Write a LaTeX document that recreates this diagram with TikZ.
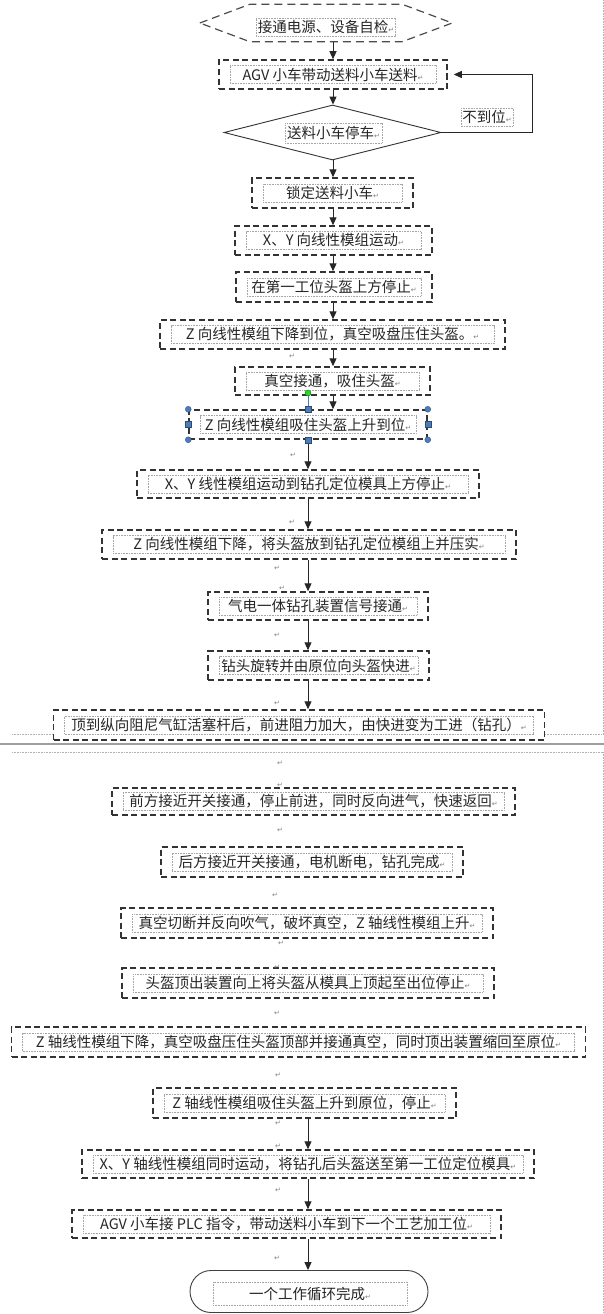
\documentclass[tikz,border=0pt]{standalone}
\usepackage{fontspec}
\setmainfont{Noto Sans CJK SC}
\newfontfamily\dejavu{DejaVu Sans}
\usetikzlibrary{arrows.meta,shapes.geometric,calc}
\definecolor{selblue}{HTML}{4A7EBB}
\definecolor{selgreen}{HTML}{22DD22}
\newcommand{\rmark}{{\dejavu\fontsize{7}{7}\selectfont\textcolor{gray}{↵}}}
\tikzset{
  stepbox/.style={draw=black!80, line width=1.5pt, dash pattern=on 6pt off 3.5pt, rectangle, inner sep=0pt},
  hexline/.style={draw=black!70, line width=1.2pt, dash pattern=on 8pt off 5pt},
  tframe/.style={draw=gray!70, dash pattern=on 0.8pt off 0.8pt, line width=0.5pt, inner sep=1.5pt,
    minimum height=18pt, font=\fontsize{14.5}{16}\selectfont, text=black!85},
  arr/.style={-{Triangle[length=8pt,width=7pt]}, line width=1pt, draw=black!85},
  retmark/.style={font=\dejavu\fontsize{7}{7}\selectfont, text=gray, inner sep=0pt},
  pageline/.style={draw=gray!60, line width=0.5pt, dash pattern=on 0.8pt off 0.8pt},
  handlec/.style={circle, fill=selblue, draw=selblue!60!black, line width=0.3pt, minimum size=6pt, inner sep=0pt},
  handles/.style={rectangle, fill=selblue, draw=selblue!60!black, line width=0.3pt, minimum size=6pt, inner sep=0pt}
}
\newcommand{\stepat}[6]{%
  \node[stepbox, minimum width=#4pt, minimum height=#5pt] (#1) at (#2,#3) {};
  \node[tframe, minimum width=#4pt-22pt] (#1t) at (#2,#3) {#6\rmark};
}
\begin{document}
\begin{tikzpicture}[x=1pt,y=-1pt]
\useasboundingbox (0,0) rectangle (604,1314);
\fill[white] (0,0) rectangle (604,1314);

% page boundary lines
\coordinate (pgR) at (603,0);
\coordinate (pgL) at (12,0);
\draw[pageline] (603,0) -- (603,734);
\draw[pageline] (12,734) -- (53,734);
\draw[pageline] (545,734) -- (603,734);
\draw[draw=gray!75, line width=2.2pt] (0,744) -- (604,744);
\draw[pageline] (12,752) -- (603,752);
\draw[pageline] (603,752) -- (603,1314);

% column coordinates
\coordinate (cA) at (333,0);
\coordinate (cB) at (308,0);
\coordinate (fb) at (532,0);

% start hexagon
\node[minimum width=252pt, minimum height=37pt, inner sep=0pt] (hex) at (326,23) {};
\draw[hexline] (hex.west) -- ([xshift=50pt]hex.north west) -- ([xshift=-50pt]hex.north east) -- (hex.east)
  -- ([xshift=-50pt]hex.south east) -- ([xshift=50pt]hex.south west) -- cycle;
\node[tframe, minimum width=137pt] (hext) at (326,27) {接通电源、设备自检\rmark};

\stepat{agv}{333}{74.5}{228}{29}{AGV 小车带动送料小车送料}

% decision
\node[diamond, draw=black!80, line width=0.9pt, minimum width=217pt, minimum height=55pt, inner sep=0pt] (dia) at (332.5,132.5) {};
\node[tframe, minimum width=97pt, minimum height=20pt] (diat) at (333.5,133) {送料小车停车\rmark};
\node[tframe] (ndw) at (487,117) {不到位\rmark};

\stepat{lock}{332.5}{193}{161}{30}{锁定送料小车}
\stepat{xya}{333.5}{240.5}{197}{29}{X、Y 向线性模组运动}
\stepat{stopa}{334}{287}{196}{30}{在第一工位头盔上方停止}
\stepat{zda}{332.5}{334.5}{345}{29}{Z 向线性模组下降到位，真空吸盘压住头盔。}
\stepat{vac}{332.5}{381}{195}{28}{真空接通，吸住头盔}
\stepat{zup}{308}{424.5}{238}{29}{Z 向线性模组吸住头盔上升到位}
\stepat{xyb}{308}{484}{342}{28}{X、Y 线性模组运动到钻孔定位模具上方停止}
\stepat{zdb}{309}{544.5}{414}{29}{Z 向线性模组下降，将头盔放到钻孔定位模组上并压实}
\stepat{qd}{318}{606}{220}{28}{气电一体钻孔装置信号接通}
\stepat{zt}{318.5}{665.5}{221}{29}{钻头旋转并由原位向头盔快进}
\stepat{dd}{299}{725}{491}{30}{顶到纵向阻尼气缸活塞杆后，前进阻力加大，由快进变为工进（钻孔）}

\stepat{front}{313.5}{801.5}{403}{27}{前方接近开关接通，停止前进，同时反向进气，快速返回}
\stepat{back}{312}{862}{302}{30}{后方接近开关接通，电机断电，钻孔完成}
\stepat{vcut}{307}{923}{372}{30}{真空切断并反向吹气，破坏真空，Z 轴线性模组上升}
\stepat{eject}{308}{983}{372}{30}{头盔顶出装置向上将头盔从模具上顶起至出位停止}
\stepat{zdc}{298.5}{1042}{574}{30}{Z 轴线性模组下降，真空吸盘压住头盔顶部并接通真空，同时顶出装置缩回至原位}
\stepat{zupb}{304.5}{1103}{303}{30}{Z 轴线性模组吸住头盔上升到原位，停止}
\stepat{xyc}{308}{1164}{452}{28}{X、Y 轴线性模组同时运动，将钻孔后头盔送至第一工位定位模具}
\stepat{agvb}{286.5}{1224}{429}{28}{AGV 小车接 PLC 指令，带动送料小车到下一个工艺加工位}

% end terminal
\node[draw=black!75, line width=0.9pt, rounded corners=21pt, minimum width=238pt, minimum height=42pt] (fin) at (309,1291.5) {};
\node[tframe, minimum width=194pt, minimum height=23pt] (fint) at (310,1293.5) {一个工作循环完成\rmark};

% connectors
\draw[arr] (hex.south -| cA) -- (agv.north -| cA);
\draw[arr] (agv.south -| cA) -- (dia.north -| cA);
\draw[arr] (dia.south -| cA) -- (lock.north -| cA);
\draw[arr] (lock.south -| cA) -- (xya.north -| cA);
\draw[arr] (xya.south -| cA) -- (stopa.north -| cA);
\draw[arr] (stopa.south -| cA) -- (zda.north -| cA);
\draw[arr] (zda.south -| cA) -- (vac.north -| cA);
\draw[arr] (vac.south -| cA) -- (zup.north -| cA);
\draw[arr] (zup.south -| cB) -- (xyb.north -| cB);
\draw[arr] (xyb.south -| cB) -- (zdb.north -| cB);
\draw[arr] (zdb.south -| cB) -- (qd.north -| cB);
\draw[arr] (qd.south -| cB) -- (zt.north -| cB);
\draw[arr] (zt.south -| cB) -- (dd.north -| cB);
\draw[arr] (zupb.south -| cB) -- (xyc.north -| cB);
\draw[arr] (xyc.south -| cB) -- (agvb.north -| cB);
\draw[arr] (agvb.south -| cB) -- (fin.north -| cB);
\draw[arr, shorten >=6pt] (dia.east) -- (dia.east -| fb) -- (agv.east -| fb) -- (agv.east);

% selection handles around zup
\draw[selblue, line width=0.8pt] (308,393) -- (zup.north);
\node[circle, fill=selgreen, draw=green!40!black, line width=0.3pt, minimum size=6pt, inner sep=0pt] (rot) at (308,393) {};
\node[handlec] (h1) at (zup.north west) {};
\node[handlec] (h2) at (zup.north east) {};
\node[handlec] (h3) at (zup.south west) {};
\node[handlec] (h4) at (zup.south east) {};
\node[handles] (h5) at (zup.north) {};
\node[handles] (h6) at (zup.south) {};
\node[handles] (h7) at (zup.west) {};
\node[handles] (h8) at (zup.east) {};

% stray paragraph marks
\foreach \p/\q in {292/356, 293/455, 292/522, 277/568, 282/588, 277/635, 277/703, 280/763, 280/785, 280/830,
  275/895, 281/943, 277/967, 277/1013, 278/1075, 278/1123, 278/1146, 278/1190, 277/1258}
  \node[retmark] (r\q) at (\p,\q) {↵};
\end{tikzpicture}
\end{document}
